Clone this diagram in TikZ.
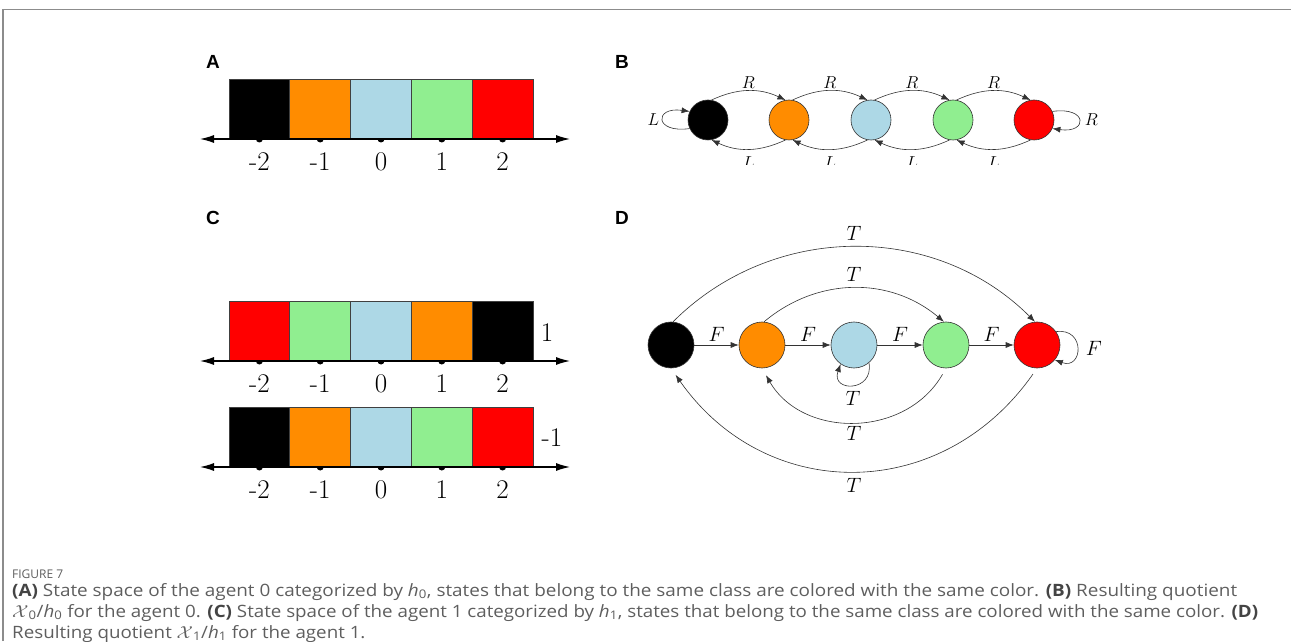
\documentclass[tikz,border=0pt]{standalone}
\usepackage{fontspec}
\usepackage{graphicx}
\usetikzlibrary{arrows.meta,calc}
\newfontfamily\capfont{Open Sans}
\newfontfamily\panelfont{Liberation Sans}

\definecolor{cOrange}{HTML}{FF8C00}
\definecolor{cBlue}{HTML}{ADD8E6}
\definecolor{cGreen}{HTML}{90EE90}
\definecolor{cRed}{HTML}{FF0000}
\definecolor{capgray}{HTML}{5E5E5E}
\definecolor{capdark}{HTML}{444444}
\definecolor{framegray}{HTML}{8C8C8C}

% caption helpers
\newcommand\hvar[1]{\textit{h}\textsubscript{#1}}
\newcommand\Xvar[1]{$\mathcal{X}$\textsubscript{#1}}
\newcommand\capbold[1]{{\bfseries\color{capdark}#1}}
\newlength\caplen
\newcommand\lastcapscale{1}
\newcommand\capline[2]{\settowidth\caplen{#2}\xdef\lastcapscale{\fpeval{#1/\caplen}}\scalebox{\lastcapscale}[1]{#2}}

% one coloured strip on a number line: prefix, axis height, colour/label list
\newcommand\drawstrip[3]{%
  \foreach \col/\lab [count=\i] in {#3} {
    \node[cell, fill=\col, anchor=south] (#1\i) at ({229+60.8*(\i-0.5)}, #2) {};
    \fill[black] ($(#1\i.south)+(-3.5,0)$) arc[start angle=180, end angle=360, x radius=3.5, y radius=3.5];
    \node[numlab] (#1t\i) at ($(#1\i.south)+(0,-23)$) {\lab};
  }
  \coordinate (#1l) at (200,#2);
  \coordinate (#1r) at (570,#2);
  \draw[numaxis] (#1l) -- (#1r);
}

\begin{document}
\begin{tikzpicture}[x=1pt,y=1pt,
  cell/.style={draw=black!75, line width=0.8pt, minimum width=60.8pt, minimum height=60pt, inner sep=0, outer sep=0},
  numaxis/.style={line width=1.2pt, {Latex[length=14pt,width=8pt]}-{Latex[length=14pt,width=8pt]}},
  numlab/.style={font=\fontsize{27}{27}\selectfont, inner sep=0},
  panel/.style={font=\panelfont\bfseries\fontsize{19}{19}\selectfont, inner sep=0},
  bstate/.style={circle, draw=black!80, line width=0.6pt, minimum size=40pt, inner sep=0},
  dstate/.style={circle, draw=black!80, line width=0.6pt, minimum size=46pt, inner sep=0},
  conn/.style={draw=black!80, line width=0.6pt, -{Latex[length=8pt,width=6pt]}},
  blab/.style={font=\fontsize{18}{18}\selectfont},
  dlab/.style={font=\fontsize{20}{20}\selectfont},
  captext/.style={font=\capfont\fontsize{17}{17}\selectfont, text=capgray, inner sep=0},
  capfig/.style={font=\capfont\fontsize{12}{12}\selectfont, text=capgray, inner sep=0},
]
\useasboundingbox (0,0) rectangle (1291,641);

% frame
\draw[framegray, line width=1.4pt] (3,0) -- (3,631.5) -- (1291,631.5);

% panel letters
\node[panel] (pA) at (213,579) {A};
\node[panel] (pB) at (622,579) {B};
\node[panel] (pC) at (213,423) {C};
\node[panel] (pD) at (622,423) {D};

% A: state space of agent 0
\drawstrip{a}{502}{black/-2, cOrange/-1, cBlue/0, cGreen/1, cRed/2}

% C: state space of agent 1
\drawstrip{c}{280}{cRed/-2, cGreen/-1, cBlue/0, cOrange/1, black/2}
\node[numlab] (cv) at (547,308) {1};
\drawstrip{e}{174}{black/-2, cOrange/-1, cBlue/0, cGreen/1, cRed/2}
\node[numlab] (ev) at (552,203) {-1};

% B: quotient for agent 0
\begin{scope}
\clip (600,476) rectangle (1120,600);
\node[bstate, fill=black]   (b1) at (708,521) {};
\node[bstate, fill=cOrange] (b2) at (789,521) {};
\node[bstate, fill=cBlue]   (b3) at (871,521) {};
\node[bstate, fill=cGreen]  (b4) at (953,521) {};
\node[bstate, fill=cRed]    (b5) at (1034,521) {};
\foreach \i/\j in {1/2,2/3,3/4,4/5} {
  \draw[conn] (b\i.80) to[out=25,in=155] node[blab, above=-1pt] {$R$} (b\j.100);
  \draw[conn] (b\j.-100) to[out=-155,in=-25] node[blab, below=4pt] {$L$} (b\i.-80);
}
\draw[conn] (b1.205) .. controls +(188:36) and +(172:36) .. node[blab, left=0pt] {$L$} (b1.155);
\draw[conn] (b5.25) .. controls +(8:36) and +(-8:36) .. node[blab, right=2pt] {$R$} (b5.-25);
\end{scope}

% D: quotient for agent 1
\node[dstate, fill=black]   (d1) at (671,296) {};
\node[dstate, fill=cOrange] (d2) at (762,296) {};
\node[dstate, fill=cBlue]   (d3) at (854,296) {};
\node[dstate, fill=cGreen]  (d4) at (946,296) {};
\node[dstate, fill=cRed]    (d5) at (1037,296) {};
\foreach \i/\j in {1/2,2/3,3/4,4/5} {
  \draw[conn] (d\i) -- node[dlab, above=0pt] {$F$} (d\j);
}
\draw[conn] (d5.35) .. controls +(8:30) and +(-20:30) .. node[dlab, right=5pt] {$F$} (d5.-40);
\draw[conn] (d3.-50) .. controls +(-80:30) and +(-110:30) .. node[dlab, below=3pt] {$T$} (d3.-125);
\draw[conn] (d1.85) to[out=45,in=135] node[dlab, above=3pt] {$T$} (d5.95);
\draw[conn] (d2.85) to[out=40,in=140] node[dlab, above=3pt] {$T$} (d4.95);
\draw[conn, shorten <=7pt, shorten >=8pt] (d4.-90) to[out=-120,in=-60,looseness=1.13] node[dlab, below=2pt] {$T$} (d2.-90);
\draw[conn, shorten <=7pt, shorten >=8pt] (d5.-90) to[out=-125,in=-55,looseness=1.16] node[dlab, below=5pt] {$T$} (d1.-90);

% caption
\node[capfig, anchor=base west] (fig) at (12,63) {FIGURE 7};
\node[captext, anchor=base west] (cap1) at (12,45) {\capline{1225pt}{\capbold{(A)} State space of the agent 0 categorized by \hvar{0}, states that belong to the same class are colored with the same color. \capbold{(B)} Resulting quotient}};
\node[captext, anchor=base west] (cap2) at (12,24) {\capline{1246pt}{\Xvar{0}/\hvar{0} for the agent 0. \capbold{(C)} State space of the agent 1 categorized by \hvar{1}, states that belong to the same class are colored with the same color. \capbold{(D)}}};
\node[captext, anchor=base west] (cap3) at (12,3) {\scalebox{\lastcapscale}[1]{Resulting quotient \Xvar{1}/\hvar{1} for the agent 1.}};
\end{tikzpicture}
\end{document}
